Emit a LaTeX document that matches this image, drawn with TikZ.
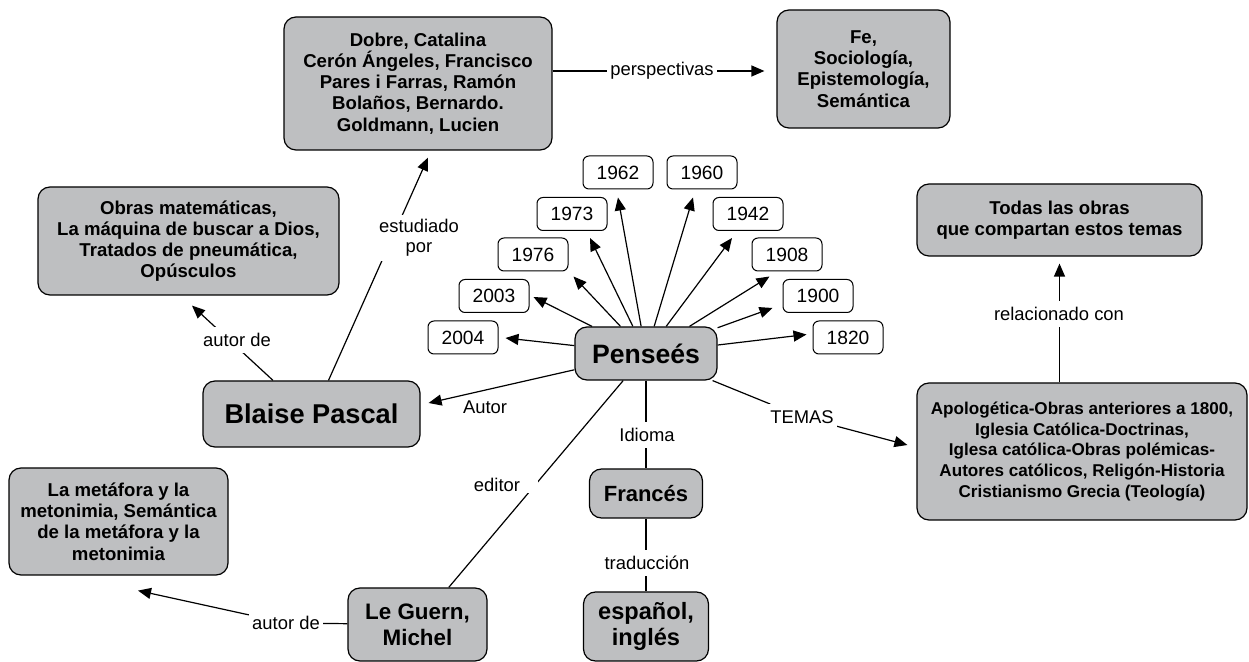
\documentclass[tikz,border=0pt]{standalone}
\usepackage{fontspec}
\setmainfont{Liberation Sans}
\usetikzlibrary{arrows.meta,calc,backgrounds}
\definecolor{boxgray}{RGB}{190,191,193}
\tikzset{
  concept/.style={draw=black, fill=boxgray, rounded corners=6pt, line width=0.6pt, align=center,
    inner sep=0pt, font=\bfseries\fontsize{9.3}{10.6}\selectfont},
  year/.style={draw=black, fill=white, rounded corners=3pt, line width=0.5pt, inner sep=0pt,
    minimum width=35pt, minimum height=16.5pt, font=\fontsize{9.6}{11}\selectfont},
  lbl/.style={fill=white, inner xsep=1.5pt, inner ysep=3pt, align=center, font=\fontsize{9.2}{10}\selectfont},
  conn/.style={line width=0.6pt},
  arr/.style={conn, -{Triangle[length=6.5pt,width=5.5pt]}}
}
\begin{document}
\begin{tikzpicture}[x=0.5pt, y=-0.5pt]
\useasboundingbox (0,0) rectangle (1249,662);

% concepts
\node[concept, minimum width=134pt, minimum height=66.5pt] (dobre) at (418,83.5)
  {Dobre, Catalina\\Cerón Ángeles, Francisco\\Pares i Farras, Ramón\\Bolaños, Bernardo.\\Goldmann, Lucien};
\node[concept, minimum width=86.5pt, minimum height=59pt] (fe) at (863.5,69)
  {Fe,\\Sociología,\\Epistemología,\\Semántica};
\node[concept, minimum width=150.5pt, minimum height=54pt] (obras) at (188.5,241)
  {Obras matemáticas,\\La máquina de buscar a Dios,\\Tratados de pneumática,\\Opúsculos};
\node[concept, minimum width=108.5pt, minimum height=33pt, font=\bfseries\fontsize{13.6}{16}\selectfont] (bp) at (311.5,414) {Blaise Pascal};
\node[concept, minimum width=71pt, minimum height=26.5pt, font=\bfseries\fontsize{13.3}{16}\selectfont] (P) at (646,353.5) {Penseés};
\node[concept, minimum width=142.5pt, minimum height=36pt] (todas) at (1059.5,220)
  {Todas las obras\\que compartan estos temas};
\node[concept, minimum width=165pt, minimum height=68.5pt, font=\bfseries\fontsize{8.55}{10.4}\selectfont] (apol) at (1082,451.5)
  {Apologética-Obras anteriores a 1800,\\Iglesia Católica-Doctrinas,\\Iglesa católica-Obras polémicas-\\Autores católicos, Religón-Historia\\Cristianismo Grecia (Teología)};
\node[concept, minimum width=109.5pt, minimum height=53.5pt] (meta) at (118.5,521.5)
  {La metáfora y la\\metonimia, Semántica\\de la metáfora y la\\metonimia};
\node[concept, minimum width=69.5pt, minimum height=36.5pt, font=\bfseries\fontsize{11.2}{13}\selectfont] (leguern) at (417.5,624.5) {Le Guern,\\Michel};
\node[concept, minimum width=56.5pt, minimum height=24.5pt, font=\bfseries\fontsize{11}{13}\selectfont] (frances) at (646,493.5) {Francés};
\node[concept, minimum width=62.5pt, minimum height=34.5pt, font=\bfseries\fontsize{11.8}{13.3}\selectfont] (espanol) at (646,626.5) {español,\\inglés};

% years
\node[year] (y1962) at (618,172.5) {1962};
\node[year] (y1960) at (702,172.5) {1960};
\node[year] (y1973) at (572,214) {1973};
\node[year] (y1942) at (748,214) {1942};
\node[year] (y1976) at (533,254.5) {1976};
\node[year] (y1908) at (787,254.5) {1908};
\node[year] (y2003) at (494,296) {2003};
\node[year] (y1900) at (818,296) {1900};
\node[year] (y2004) at (463,337.5) {2004};
\node[year] (y1820) at (848,337.5) {1820};

% linking phrases
\node[lbl] (lpersp) at (662,71) {perspectivas};
\node[lbl, inner ysep=2pt] (lestud) at (419,238) {estudiado\\por};
\node[lbl] (lautor1) at (237,340) {autor de};
\node[font=\fontsize{9.2}{10}\selectfont, inner sep=0pt] (lautor) at (485,407) {Autor};
\node[lbl] (ltemas) at (802,417) {TEMAS};
\node[lbl, inner xsep=9pt, inner ysep=0.5pt] (leditor) at (497,485) {editor};
\node[lbl] (lidioma) at (647,435) {Idioma};
\node[lbl] (ltrad) at (647,563) {traducción};
\node[lbl] (lrel) at (1059,314) {relacionado con};
\node[lbl] (lautor2) at (286,623) {autor de};

\begin{pgfonlayer}{background}
\draw[arr] (dobre.east |- lpersp) -- ($(fe.west |- lpersp)+(-12,0)$);
\draw[arr] ($(bp.north)+(17,0)$) -- ($(dobre.south)+(10,7)$);
\draw[arr] ($(bp.north)+(-38.5,0)$) -- ($(obras.south)+(3.5,10)$);
\draw[arr] (P) -- ($(bp.east)+(8,-11)$);
\draw[conn] (P) -- (ltemas);
\draw[arr] (ltemas) -- ($(apol.west)+(-9,-6.5)$);
\draw[conn] (P) -- (leguern);
\draw[conn] (P) -- (frances);
\draw[conn] (frances) -- (espanol);
\draw[arr] (todas.south |- apol.north) -- ($(todas.south)+(0,7)$);
\draw[conn] (leguern) -- (lautor2);
\draw[arr] (lautor2) -- ($(meta.south)+(19.5,15)$);
% years
\draw[arr] (P) -- ($(y1962.south)+(0,8)$);
\draw[arr] (P) -- ($(y1960.south)+(-9,8)$);
\draw[arr] (P) -- ($(y1973.south)+(18,7)$);
\draw[arr] (P) -- ($(y1942.south)+(-16,7)$);
\draw[arr] (P) -- ($(y1976.south east)+(5,5)$);
\draw[arr] (P) -- ($(y1908.south west)+(18,5)$);
\draw[arr] (P) -- ($(y2003.east)+(4,1)$);
\draw[arr] (P) -- ($(y1900.west)+(-10,12)$);
\draw[arr] (P) -- ($(y2004.east)+(7,0.5)$);
\draw[arr] (P) -- ($(y1820.west)+(-6,-3)$);
\end{pgfonlayer}
\end{tikzpicture}
\end{document}
